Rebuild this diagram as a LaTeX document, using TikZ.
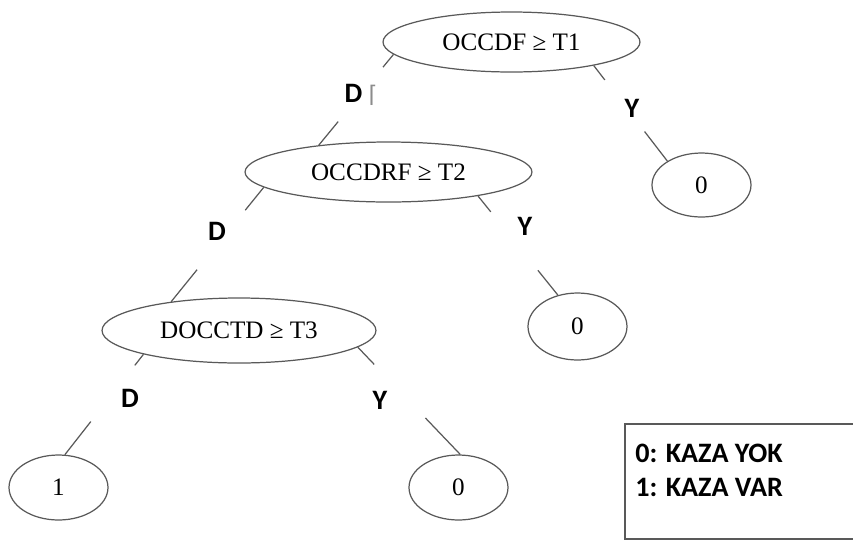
\documentclass[tikz,border=0pt]{standalone}
\usepackage{fontspec}
\setmainfont{Liberation Serif}
\newfontfamily\labelfont{Carlito}
\newfontfamily\symfont{DejaVu Sans}
\usetikzlibrary{shapes.geometric, calc}

\begin{document}
\begin{tikzpicture}[
			x=0.02cm, y=-0.02cm,
			every node/.style={inner sep=0pt},
			test/.style={ellipse, draw=black!65, line width=0.7pt, font=\fontsize{14.3}{17}\selectfont, minimum height=1.2cm},
			leaf/.style={test, minimum width=1.98cm, minimum height=1.3cm},
			branch/.style={font=\labelfont\bfseries\fontsize{16}{19.3}\selectfont},
			edge/.style={draw=black!65, line width=0.7pt}
			]
			
			\useasboundingbox (0,0) rectangle (853,542);
			\clip (0,0) rectangle (853,542);
			
			% Nodes
			\node (root) [test, minimum width=5.14cm] at (511.5,42) {OCCDF ≥ T1};
			\node (occdrf) [test, minimum width=5.74cm] at (388.5,172) {OCCDRF ≥ T2};
			\node (docctd) [test, minimum width=5.48cm, minimum height=1.3cm] at (239,330.5) {DOCCTD ≥ T3};
			\node (leaf_a) [leaf, minimum height=1.28cm] at (701.5,185) {0};
			\node (leaf_b) [leaf, minimum height=1.34cm] at (577.5,326.5) {0};
			\node (leaf_c) [leaf] at (58.5,487.5) {1};
			\node (leaf_d) [leaf] at (458.5,487.5) {0};
			
			% Branch labels
			\node (d_root) [branch] at (361,95) {D {\symfont\mdseries\color{black!45}\fontsize{13}{15}\selectfont ⌈}};
			\node (y_root) [branch] at (632,108) {Y};
			\node (d_occdrf) [branch] at (217,231) {D};
			\node (y_occdrf) [branch] at (525,226) {Y};
			\node (d_docctd) [branch] at (130,398) {D};
			\node (y_docctd) [branch] at (380,400) {Y};
			
			% Legend
			\draw [edge] (625,424) rectangle (920,539);
			\node (legend) [branch, anchor=west, align=left] at (635,470) {0: KAZA YOK\\1: KAZA VAR};
			
			% Connections
			\draw [edge] (root.186) -- ($(root.186)!0.14!(occdrf.159)$);
			\draw [edge] ($(root.186)!0.74!(occdrf.159)$) -- (occdrf.159);
			\draw [edge] (root.344) -- ($(root.344)!0.15!(leaf_a.145)$);
			\draw [edge] ($(root.344)!0.69!(leaf_a.145)$) -- (leaf_a.145);
			\draw [edge] (occdrf.187) -- ($(occdrf.187)!0.2!(docctd.157)$);
			\draw [edge] ($(occdrf.187)!0.72!(docctd.157)$) -- (docctd.157);
			\draw [edge] (occdrf.345) -- ($(occdrf.345)!0.16!(leaf_b.122)$);
			\draw [edge] ($(occdrf.345)!0.75!(leaf_b.122)$) -- (leaf_b.122);
			\draw [edge] (docctd.194) -- ($(docctd.194)!0.11!(leaf_c.79)$);
			\draw [edge] ($(docctd.194)!0.67!(leaf_c.79)$) -- (leaf_c.79);
			\draw [edge] (docctd.352) -- ($(docctd.352)!0.16!(leaf_d.87)$);
			\draw [edge] ($(docctd.352)!0.66!(leaf_d.87)$) -- (leaf_d.87);
			
		\end{tikzpicture}
\end{document}
